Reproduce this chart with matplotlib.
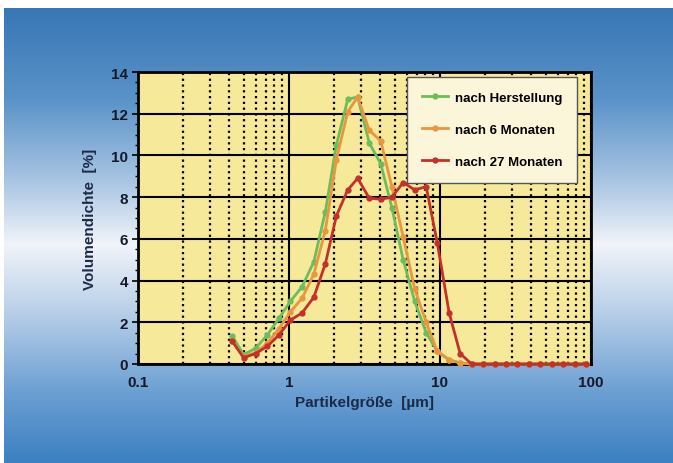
import numpy as np
import matplotlib.pyplot as plt
from matplotlib.colors import LinearSegmentedColormap
from matplotlib.ticker import LogLocator, MultipleLocator, FixedLocator, FixedFormatter

plt.rcParams['font.family'] = ['Liberation Sans', 'DejaVu Sans']

# particle size classes [µm]
sizes = [0.42, 0.50, 0.60, 0.72, 0.86, 1.02, 1.22, 1.46, 1.74, 2.06, 2.45, 2.85,
         3.4, 4.05, 4.8, 5.7, 6.8, 8.1, 9.6, 11.5, 13.6, 16.2, 19.3, 23, 27.3,
         32.5, 38.7, 46, 55, 65, 78, 92]

# volume density [%]
herstellung = [1.35, 0.45, 0.75, 1.4, 2.2, 3.0, 3.7, 4.9, 7.3, 10.5, 12.7, 12.8,
               10.6, 9.6, 7.5, 5.0, 3.0, 1.5, 0.6, 0.2, 0.05, 0, 0, 0, 0,
               0, 0, 0, 0, 0, 0, 0]
monate_6 = [1.1, 0.35, 0.55, 1.0, 1.7, 2.5, 3.15, 4.3, 6.4, 9.8, 12.1, 12.8,
            11.2, 10.7, 8.5, 6.1, 3.6, 2.0, 0.6, 0.2, 0.05, 0, 0, 0, 0,
            0, 0, 0, 0, 0, 0, 0]
monate_27 = [1.1, 0.3, 0.5, 0.85, 1.4, 2.1, 2.45, 3.2, 4.8, 7.1, 8.35, 8.9,
             7.95, 7.9, 8.0, 8.7, 8.35, 8.5, 5.8, 2.45, 0.5, 0, 0, 0, 0,
             0, 0, 0, 0, 0, 0, 0]

labels = ['nach Herstellung', 'nach 6 Monaten', 'nach 27 Monaten']
colors = ['#6cbd5c', '#e9963f', '#c4302a']

W, H = 673, 464
fig = plt.figure(figsize=(W / 100, H / 100), dpi=100, facecolor='white')

# blue backdrop, light band in the middle
bg = fig.add_axes([4 / W, 0, 1 - 4 / W, 1 - 9 / H])
bg_cmap = LinearSegmentedColormap.from_list('bg', [
    (0.00, '#3876b5'), (0.20, '#5a93c9'), (0.38, '#a9c5e3'),
    (0.52, '#f1f4f9'), (0.68, '#b4cce7'), (0.85, '#6a9ed2'), (1.00, '#3c80c1')])
grad = np.linspace(0, 1, 256).reshape(-1, 1)
bg.imshow(grad, aspect='auto', cmap=bg_cmap, extent=[0, 1, 0, 1])
bg.axis('off')

ax = fig.add_axes([138 / W, 1 - 365 / H, 453 / W, 292 / H])
ax.set_facecolor('#f6e99a')
ax.set_xscale('log')
ax.set_xlim(0.1, 100)
ax.set_ylim(0, 14)

# grid: solid decades and every 2 %, dotted minor decades
ax.xaxis.set_major_locator(FixedLocator([0.1, 1, 10, 100]))
ax.xaxis.set_major_formatter(FixedFormatter(['0.1', '1', '10', '100']))
ax.xaxis.set_minor_locator(LogLocator(base=10, subs=np.arange(2, 10)))
ax.xaxis.set_minor_formatter(FixedFormatter([]))
ax.yaxis.set_major_locator(MultipleLocator(2))
ax.yaxis.set_minor_locator(MultipleLocator(0.5))
ax.grid(which='major', color='black', linewidth=1.5, linestyle='-', zorder=1)
ax.grid(which='minor', axis='x', color='black', linewidth=1.6,
        linestyle=(0, (1, 1.6)), zorder=1)
ax.set_axisbelow(True)

for s in ax.spines.values():
    s.set_linewidth(2)
    s.set_color('black')

ax.tick_params(axis='x', which='both', length=0, pad=8)
ax.tick_params(axis='y', which='major', length=4, width=1.2, pad=3)
ax.tick_params(axis='y', which='minor', length=2.5, width=1)
for lab in ax.get_xticklabels() + ax.get_yticklabels():
    lab.set_fontweight('bold')
    lab.set_fontsize(11)
    lab.set_color('#151a2c')

for ys, lab, c in zip([herstellung, monate_6, monate_27], labels, colors):
    ax.plot(sizes, ys, color=c, linewidth=2, marker='o', markersize=3.5,
            label=lab, zorder=3, clip_on=False)

ax.set_xlabel('Partikelgröße  [µm]', fontsize=11, fontweight='bold',
              color='#1c2a48', labelpad=4)
ax.set_ylabel('Volumendichte  [%]', fontsize=11, fontweight='bold',
              color='#1c2a48', labelpad=10)

leg = ax.legend(loc='upper left', bbox_to_anchor=(0.594, 0.982), frameon=True,
                fancybox=False, shadow=False, handlelength=2.0, handletextpad=0.5,
                labelspacing=1.5, borderpad=1.1, borderaxespad=0,
                prop={'weight': 'bold', 'size': 9.5})
leg.get_frame().set_facecolor('#fbf6d9')
leg.get_frame().set_edgecolor('#555555')
leg.get_frame().set_linewidth(1.0)
leg.get_frame().set_alpha(1)
leg.set_zorder(5)

fig.savefig('out.png', dpi=100, facecolor='white')
plt.close(fig)
